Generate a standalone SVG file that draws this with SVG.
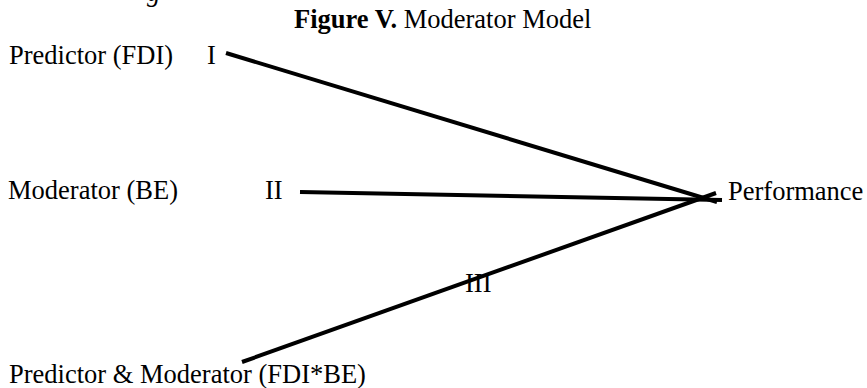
<svg xmlns="http://www.w3.org/2000/svg" width="867" height="388" viewBox="0 0 867 388">
<style>
text{font-family:"Liberation Serif","Times New Roman",serif;font-size:26.5px;fill:#000}
.b{font-weight:bold}
.c{fill:none;stroke:#000;stroke-width:4;stroke-linecap:butt}
</style>
<rect width="867" height="388" fill="#fff"/>
<text x="147" y="1" font-style="italic">g</text>
<g id="title"><text x="294" y="28"><tspan class="b">Figure V.</tspan> Moderator Model</text></g>
<g id="predictor"><text x="9" y="64">Predictor (FDI)</text><text x="207" y="64">I</text></g>
<g id="moderator"><text x="8" y="199">Moderator (BE)</text><text x="265" y="199">II</text></g>
<g id="interaction"><text x="9" y="383">Predictor &amp; Moderator (FDI*BE)</text></g>
<g id="performance"><text x="728" y="200">Performance</text></g>
<g id="connectors">
<line class="c" x1="226" y1="53" x2="717" y2="202"/>
<line class="c" x1="300" y1="192" x2="722" y2="200"/>
<line class="c" x1="242" y1="362" x2="716" y2="193"/>
<text x="465" y="292">III</text>
</g>
</svg>
